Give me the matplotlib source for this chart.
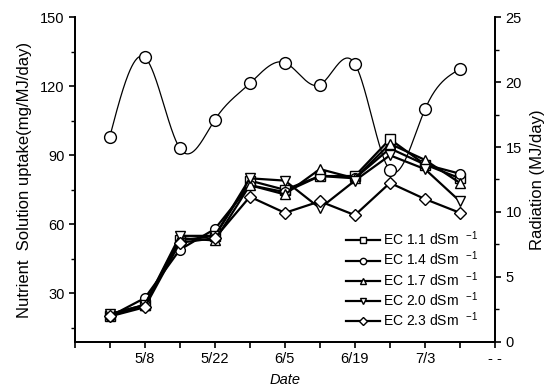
import numpy as np
import matplotlib
matplotlib.use("Agg")
import matplotlib.pyplot as plt

plt.rcParams["font.family"] = ["Liberation Sans", "DejaVu Sans"]
plt.rcParams["mathtext.fontset"] = "custom"
plt.rcParams["mathtext.rm"] = "Liberation Sans"

# days counted from 4/24
days = [7, 14, 21, 28, 35, 42, 49, 56, 63, 70, 77]
tick_days = [0, 7, 14, 21, 28, 35, 42, 49, 56, 63, 70, 77, 84]
tick_labels = ["", "", "5/8", "", "5/22", "", "6/5", "", "6/19", "", "7/3", "", "- -"]

ec_11 = [20, 25, 53, 55, 79, 75, 81, 81, 97, 86, 80]
ec_14 = [20, 28, 49, 58, 77, 74, 81, 80, 93, 86, 82]
ec_17 = [21, 25, 54, 53, 77, 73, 84, 80, 95, 88, 78]
ec_20 = [21, 25, 55, 55, 80, 79, 67, 79, 90, 84, 70]
ec_23 = [20, 24, 52, 54, 72, 65, 70, 64, 78, 71, 65]
radiation = [15.8, 21.9, 14.9, 17.1, 19.9, 21.5, 19.8, 21.4, 13.2, 17.9, 21.0]

series = [
    ("EC 1.1 dSm  $^{-1}$", ec_11, "s"),
    ("EC 1.4 dSm  $^{-1}$", ec_14, "o"),
    ("EC 1.7 dSm  $^{-1}$", ec_17, "^"),
    ("EC 2.0 dSm  $^{-1}$", ec_20, "v"),
    ("EC 2.3 dSm  $^{-1}$", ec_23, "D"),
]


def natural_spline(x, y, n=400):
    # plain natural cubic spline, just for drawing the smooth radiation curve
    x = np.asarray(x, float)
    y = np.asarray(y, float)
    k = len(x)
    h = np.diff(x)
    A = np.zeros((k, k))
    b = np.zeros(k)
    A[0, 0] = A[-1, -1] = 1
    for i in range(1, k - 1):
        A[i, i - 1] = h[i - 1]
        A[i, i] = 2 * (h[i - 1] + h[i])
        A[i, i + 1] = h[i]
        b[i] = 6 * ((y[i + 1] - y[i]) / h[i] - (y[i] - y[i - 1]) / h[i - 1])
    m = np.linalg.solve(A, b)
    xs = np.linspace(x[0], x[-1], n)
    idx = np.clip(np.searchsorted(x, xs) - 1, 0, k - 2)
    x0, x1 = x[idx], x[idx + 1]
    hh = x1 - x0
    t0, t1 = x1 - xs, xs - x0
    ys = (m[idx] * t0**3 + m[idx + 1] * t1**3) / (6 * hh) \
        + (y[idx] / hh - m[idx] * hh / 6) * t0 + (y[idx + 1] / hh - m[idx + 1] * hh / 6) * t1
    return xs, ys


fig = plt.figure(figsize=(5.5, 3.91), dpi=100)
ax = fig.add_axes([0.136, 0.126, 0.764, 0.83])
ax2 = ax.twinx()

for label, vals, mk in series:
    ax.plot(days, vals, color="black", lw=1.6, marker=mk, ms=7 if mk != "D" else 6,
            mfc="white", mec="black", mew=1.0, label=label, zorder=3)

xs, ys = natural_spline(days, radiation)
ax2.plot(xs, ys, color="black", lw=0.9)
ax2.plot(days, radiation, ls="none", marker="o", ms=8.5, mfc="white", mec="black", mew=1.0)

ax.set_xlim(0, 84)
ax.set_ylim(9, 150)
ax2.set_ylim(0, 25)

ax.set_xticks(tick_days)
ax.set_xticklabels(tick_labels)
ax.set_yticks([30, 60, 90, 120, 150])
ax.set_yticks([15, 45, 75, 105, 135], minor=True)
ax2.set_yticks([0, 5, 10, 15, 20, 25])
ax2.set_yticks([2.5, 7.5, 12.5, 17.5, 22.5], minor=True)

for a in (ax, ax2):
    a.spines["top"].set_visible(False)
    a.tick_params(labelsize=10.5, direction="out", length=4, width=1.2)
    a.tick_params(which="minor", direction="out", length=3, width=1.0)
    for s in a.spines.values():
        s.set_linewidth(1.3)

ax.set_xlabel("Date", fontsize=10.5, style="italic", labelpad=5)
ax.set_ylabel("Nutrient  Solution uptake(mg/MJ/day)", fontsize=12, labelpad=6)
ax2.set_ylabel("Radiation (MJ/day)", fontsize=12, labelpad=6)

ax.legend(loc="lower right", bbox_to_anchor=(0.99, 0.0), frameon=False, fontsize=10,
          handlelength=2.5, handletextpad=0.2, labelspacing=0.12, markerscale=0.65)

fig.savefig("out.png", dpi=100)
